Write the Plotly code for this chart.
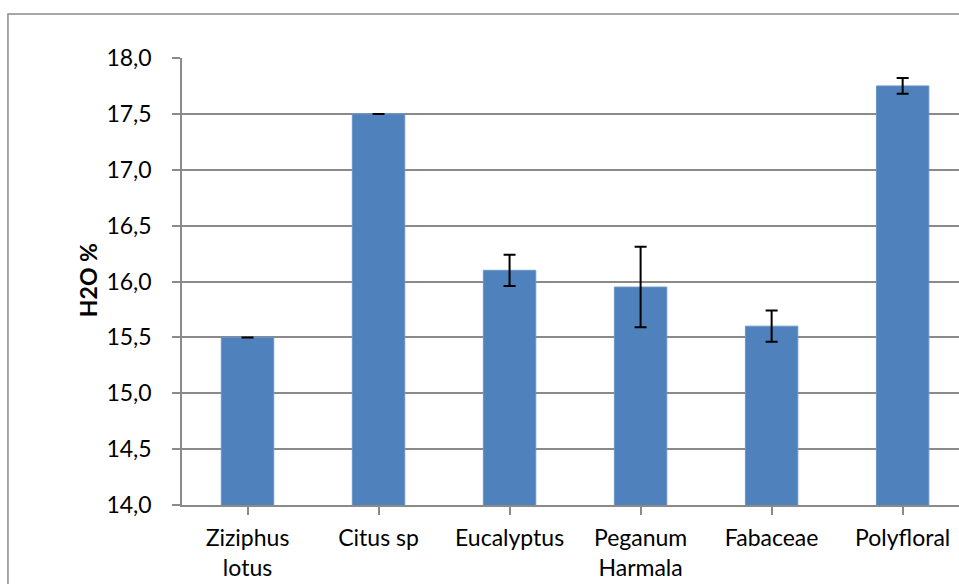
import plotly.graph_objects as go

categories = ["Ziziphus<br>lotus", "Citus sp", "Eucalyptus", "Peganum<br>Harmala", "Fabaceae", "Polyfloral"]
h2o_values = [15.5, 17.5, 16.1, 15.95, 15.6, 17.75]
h2o_errors = [0.0, 0.0, 0.14, 0.36, 0.14, 0.07]
y_ticks = [14.0, 14.5, 15.0, 15.5, 16.0, 16.5, 17.0, 17.5, 18.0]

FONT = "Lato"
GRID = "#8a8a8a"

fig = go.Figure()
fig.add_trace(go.Bar(
    x=list(range(len(categories))),
    y=h2o_values,
    width=0.4,
    marker=dict(color="#4F81BD", line=dict(color="#6a95c8", width=1)),
    error_y=dict(type="data", array=h2o_errors, visible=True,
                 color="black", thickness=2, width=6),
))

fig.update_layout(
    width=959, height=584,
    margin=dict(l=182, r=0, t=58, b=79),
    paper_bgcolor="white", plot_bgcolor="white",
    separators=", ",
    showlegend=False,
    font=dict(family=FONT, size=22, color="black"),
)
fig.update_xaxes(
    range=[-0.5, 5.43],
    tickmode="array",
    tickvals=list(range(len(categories))),
    ticktext=categories,
    showline=True, linecolor=GRID, linewidth=1.5,
    ticks="outside", ticklen=8, tickcolor=GRID, tickwidth=1.5,
    showgrid=False, zeroline=False,
    tickfont=dict(family=FONT, size=23, color="black"),
    ticklabelstandoff=4,
    tickson="boundaries",
)
fig.update_yaxes(
    range=[14.0, 18.0],
    tickmode="array", tickvals=y_ticks, tickformat=".1f",
    showline=True, linecolor=GRID, linewidth=1.5,
    ticks="outside", ticklen=8, tickcolor=GRID, tickwidth=1.5,
    showgrid=True, gridcolor=GRID, gridwidth=1.5,
    zeroline=False,
    tickfont=dict(family=FONT, size=23, color="black"),
    ticklabelstandoff=16,
)

fig.add_annotation(
    text="<b>H2O %</b>", textangle=-90,
    xref="paper", yref="paper", x=-0.121, y=0.503,
    showarrow=False, font=dict(family=FONT, size=23, color="black"),
    xanchor="center", yanchor="middle",
)

fig.add_shape(type="rect", xref="paper", yref="paper",
              x0=-0.224, x1=1.05, y0=-0.3, y1=1.0984,
              line=dict(color="#8c8c8c", width=1.5), fillcolor="rgba(0,0,0,0)", layer="below")

fig.write_html(
    "out.html",
    config={"displayModeBar": False},
    post_script="document.body.style.margin='0';document.body.style.overflow='hidden';",
)
